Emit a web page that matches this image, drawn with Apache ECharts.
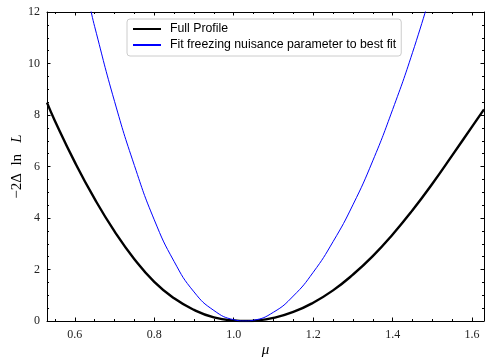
<!DOCTYPE html>
<html>
<head>
<meta charset="utf-8">
<script src="https://cdn.jsdelivr.net/npm/echarts@6/dist/echarts.min.js"></script>
<style>html,body{margin:0;padding:0;background:#fff}#c{width:485px;height:361px}</style>
</head>
<body>
<div id="c"></div>
<script>
// Data
const muFull = [0.53,0.55,0.6,0.65,0.7,0.75,0.8,0.85,0.9,0.95,1.0,1.032,1.06,1.1,1.15,1.2,1.25,1.3,1.35,1.4,1.45,1.5,1.55,1.6,1.63];
const nllFull = [8.48,7.77,6.17,4.74,3.48,2.40,1.52,0.88,0.43,0.14,0.02,0,0.02,0.12,0.35,0.71,1.19,1.8,2.52,3.36,4.3,5.33,6.43,7.55,8.22];
const muFrozen = [0.64,0.65,0.7,0.75,0.8,0.85,0.9,0.95,1.0,1.028,1.05,1.1,1.15,1.2,1.25,1.3,1.35,1.4,1.45,1.5];
const nllFrozen = [12.09,11.43,8.53,6.04,3.93,2.31,1.13,0.41,0.05,0,0.03,0.34,0.97,1.89,3.08,4.51,6.22,8.21,10.42,12.92];
const xMajor = [0.6,0.8,1.0,1.2,1.4,1.6];
const xMinor = [0.55,0.65,0.7,0.75,0.85,0.9,0.95,1.05,1.1,1.15,1.25,1.3,1.35,1.45,1.5,1.55];
const seriesNames = ['Full Profile','Fit freezing nuisance parameter to best fit'];

const serif = 'Liberation Serif';
const X_MIN = 0.53, X_MAX = 1.63;
function xAx(pos, vals, len, labels, line) {
  return {
    type: 'value', position: pos, min: X_MIN, max: X_MAX,
    axisLine: {show: line, onZero: false, lineStyle: {color: '#000', width: 1}},
    axisTick: {show: true, inside: true, length: len, customValues: vals, lineStyle: {color: '#000', width: 1}},
    axisLabel: labels ? {show: true, customValues: vals, margin: 8, color: '#222', fontFamily: serif, fontSize: 12,
      formatter: v => v.toFixed(1)} : {show: false},
    splitLine: {show: false}
  };
}
function yAx(pos, labels) {
  return {
    type: 'value', position: pos, min: 0, max: 12, interval: 2,
    axisLine: {show: true, onZero: false, lineStyle: {color: '#000', width: 1}},
    axisTick: {show: true, inside: true, length: 3.5, lineStyle: {color: '#000', width: 1}},
    minorTick: {show: true, splitNumber: 4, length: 2, lineStyle: {color: '#000', width: 1}},
    axisLabel: labels ? {show: true, margin: 7, color: '#222', fontFamily: serif, fontSize: 12} : {show: false},
    splitLine: {show: false},
    name: labels ? '−2Δ  ln   {i|L}' : '',
    nameLocation: 'middle', nameGap: 22, nameRotate: 90, nameMoveOverlap: false,
    nameTextStyle: {fontFamily: serif, fontSize: 15, color: '#000', rich: {i: {fontFamily: serif, fontSize: 15, fontStyle: 'italic', color: '#000'}}}
  };
}
const xAxes = [
  xAx('bottom', xMajor, 3.5, true, true),
  xAx('bottom', xMinor, 2, false, false),
  xAx('top', xMajor, 3.5, false, true),
  xAx('top', xMinor, 2, false, false)
];
xAxes[0].name = 'μ';
xAxes[0].nameLocation = 'middle';
xAxes[0].nameGap = 22;
xAxes[0].nameMoveOverlap = false;
xAxes[0].nameTextStyle = {fontFamily: serif, fontSize: 15, fontStyle: 'italic', color: '#000'};

const chart = echarts.init(document.getElementById('c'), null, {renderer: 'canvas'});
chart.setOption({
  animation: false,
  backgroundColor: '#fff',
  grid: {left: 47, right: 1, top: 12, bottom: 40, containLabel: false, outerBoundsMode: 'none'},
  xAxis: xAxes,
  yAxis: [yAx('left', true), yAx('right', false)],
  legend: {
    left: 127, top: 19, orient: 'vertical',
    data: seriesNames,
    itemWidth: 28, itemHeight: 14, itemGap: 4,
    padding: [4, 5, 5, 5],
    borderColor: '#cccccc', borderWidth: 1, borderRadius: 3,
    backgroundColor: 'rgba(255,255,255,0.8)',
    itemStyle: {opacity: 0},
    textStyle: {fontFamily: 'Liberation Sans', fontSize: 12.3, color: '#000', padding: [0, 0, 0, 4]}
  },
  series: [
    {name: seriesNames[0], type: 'line', xAxisIndex: 0, yAxisIndex: 0, showSymbol: false, symbol: 'none', smooth: true,
     lineStyle: {color: '#000', width: 2.4}, itemStyle: {color: '#000'}, clip: true,
     data: muFull.map((m, i) => [m, nllFull[i]])},
    {name: seriesNames[1], type: 'line', xAxisIndex: 0, yAxisIndex: 0, showSymbol: false, symbol: 'none', smooth: true,
     lineStyle: {color: '#0000ff', width: 1}, itemStyle: {color: '#0000ff'}, clip: true,
     data: muFrozen.map((m, i) => [m, nllFrozen[i]])}
  ]
});
</script>
</body>
</html>
